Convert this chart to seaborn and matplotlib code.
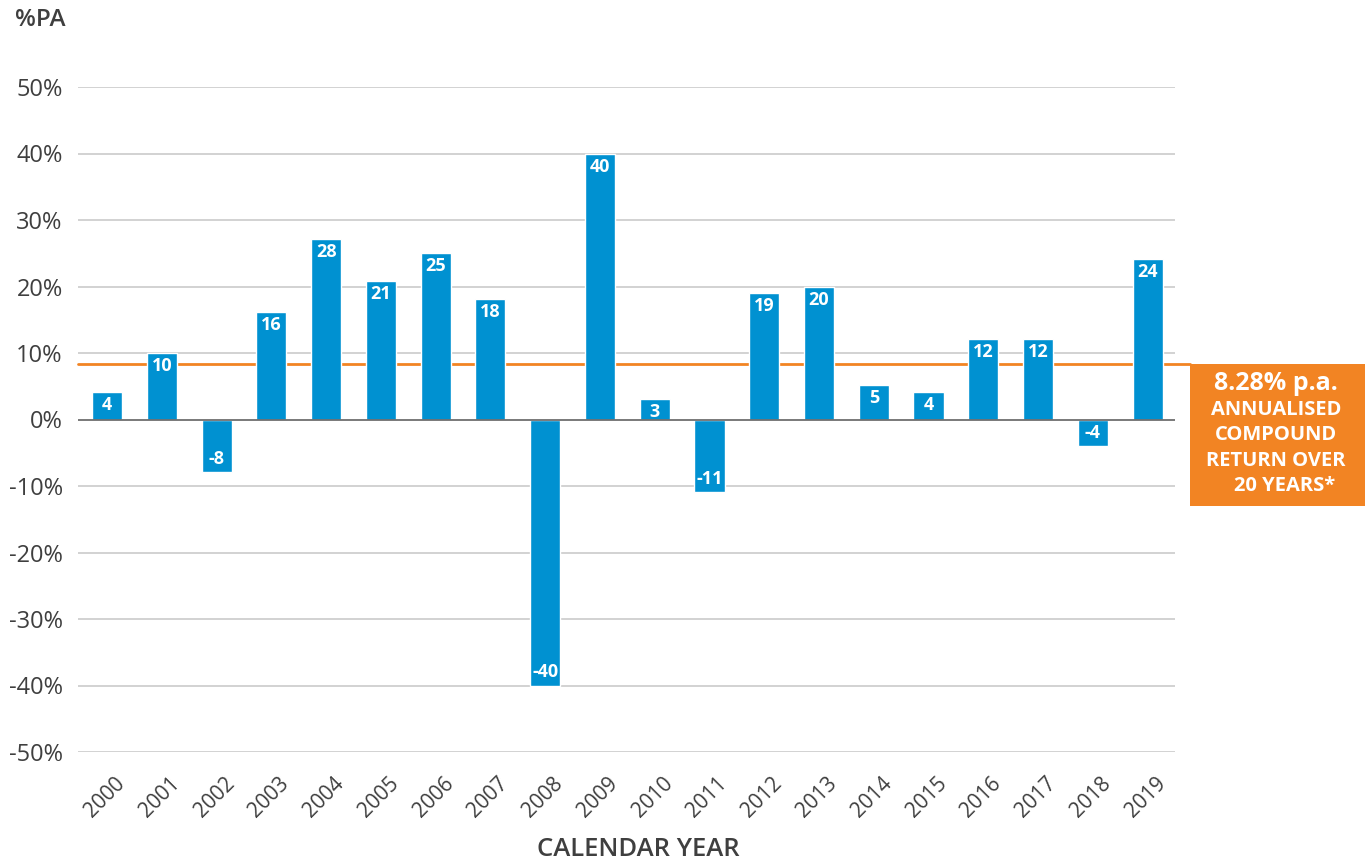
import matplotlib
matplotlib.use("Agg")
import matplotlib.pyplot as plt
import matplotlib.patches as mpatches
from matplotlib.transforms import ScaledTranslation
import seaborn as sns
import pandas as pd

years = [str(y) for y in range(2000, 2020)]
returns = [4.1, 10.0, -7.9, 16.2, 27.2, 20.8, 25.0, 18.1, -40.0, 40.0,
           3.1, -10.9, 19.0, 20.0, 5.2, 4.1, 12.1, 12.1, -4.0, 24.1]
value_labels = ["4", "10", "-8", "16", "28", "21", "25", "18", "-40", "40",
                "3", "-11", "19", "20", "5", "4", "12", "12", "-4", "24"]
y_ticks = [-50, -40, -30, -20, -10, 0, 10, 20, 30, 40, 50]
y_tick_labels = [f"{t}%" for t in y_ticks]
average_return = 8.28
box_lines = ["8.28% p.a.", "ANNUALISED", "COMPOUND", "RETURN OVER", "20 YEARS*"]

BLUE = "#0091D1"
ORANGE = "#F28423"
TEXT = "#3F3F3F"

sns.set_theme(style="white")
plt.rcParams["font.family"] = ["Open Sans", "DejaVu Sans"]

df = pd.DataFrame({"year": years, "ret": returns})

fig = plt.figure(figsize=(13.7, 8.61), dpi=100)
ax = fig.add_axes([78/1370, 1-752/861, (1175-78)/1370, (752-87)/861])

sns.barplot(data=df, x="year", y="ret", color=BLUE, width=0.55,
            saturation=1, ax=ax, zorder=3)

ax.set_ylim(-50, 50)
ax.set_xlim(-0.53, 19.5)
ax.set_yticks(y_ticks)
ax.set_yticklabels(y_tick_labels, fontsize=17, color=TEXT)
for t in y_ticks:
    if t == 0:
        ax.axhline(t, color="#6E6E6E", lw=1.3, zorder=4)
    else:
        ax.axhline(t, color="#CBCBCB", lw=1.2, zorder=1)
ax.tick_params(axis="y", length=0, pad=11)
ax.tick_params(axis="x", length=0, pad=15)
for s in ax.spines.values():
    s.set_visible(False)

ax.set_xticks(range(len(years)))
ax.set_xticklabels(years, rotation=45, fontsize=15, color=TEXT,
                   ha="center")
for lab in ax.get_xticklabels():
    lab.set_transform(lab.get_transform() + ScaledTranslation(-2/100, 0, fig.dpi_scale_trans))
ax.set_xlabel("")
ax.set_ylabel("")

for i, (v, lab) in enumerate(zip(returns, value_labels)):
    off = -9.5 if v > 0 else 9.5
    ax.annotate(lab, xy=(i, v), xytext=(0, off), textcoords="offset points",
                ha="center", va="center", color="white", fontsize=13,
                fontweight="bold", zorder=5)

ax.axhline(average_return, xmin=0, xmax=(1190-78)/(1175-78), color=ORANGE,
           lw=2, zorder=2, clip_on=False)

box = mpatches.Rectangle((1190/1370, 1-506/861), 175/1370, 142/861,
                         transform=fig.transFigure, facecolor=ORANGE,
                         edgecolor="none")
fig.patches.append(box)
line_y = [383, 410, 435, 461, 486]
line_x = [1276, 1276, 1276, 1276, 1285]
line_fs = [18, 14.5, 14.5, 14.5, 14.5]
for txt, yy, xx, fs in zip(box_lines, line_y, line_x, line_fs):
    fig.text(xx/1370, 1-yy/861, txt, ha="center", va="center", color="white",
             fontsize=fs, fontweight="bold")

fig.text(15/1370, 1-20/861, "%PA", ha="left", va="center", color=TEXT,
         fontsize=17.5, fontweight="semibold")
fig.text(638/1370, 1-850/861, "CALENDAR YEAR", ha="center", va="center",
         color=TEXT, fontsize=18.5, fontweight="semibold")

fig.savefig("out.png", dpi=100, facecolor="white")
